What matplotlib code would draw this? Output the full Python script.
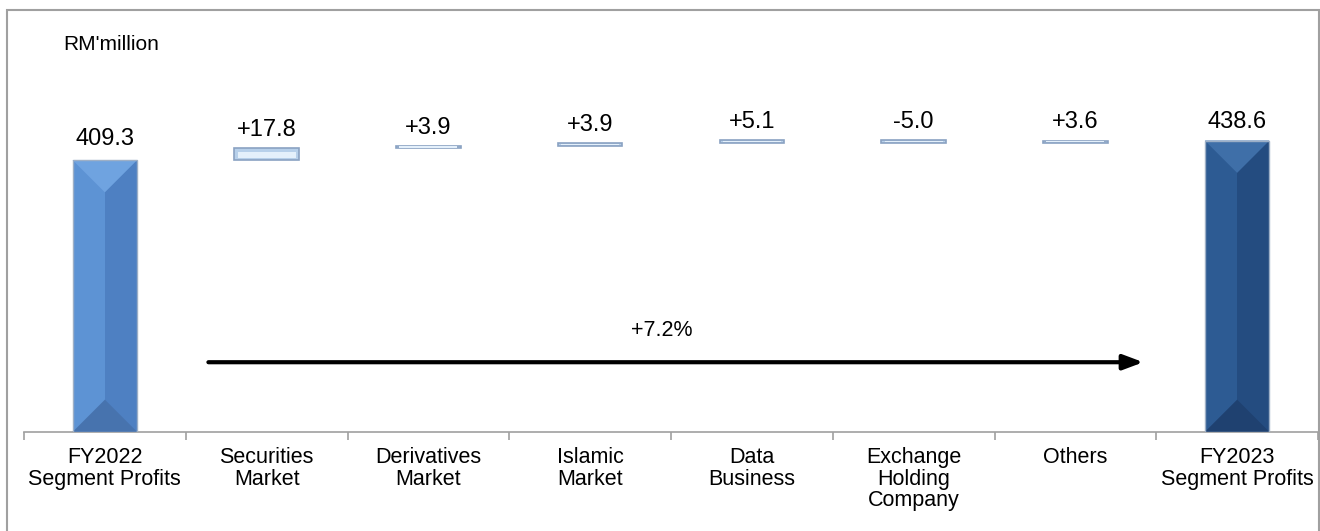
"""Waterfall: FY2022 -> FY2023 segment profits by business line."""
import matplotlib
matplotlib.use("Agg")
import matplotlib.pyplot as plt
from matplotlib.patches import Polygon, Rectangle
import numpy as np

plt.rcParams["font.family"] = ["Liberation Sans", "DejaVu Sans"]

# ── data ─────────────────────────────────────────────────────────────
categories = ["FY2022\nSegment Profits", "Securities\nMarket", "Derivatives\nMarket",
              "Islamic\nMarket", "Data\nBusiness", "Exchange\nHolding\nCompany",
              "Others", "FY2023\nSegment Profits"]
start_total = 409.3
changes = [17.8, 3.9, 3.9, 5.1, -5.0, 3.6]
end_total = 438.6
unit_label = "RM'million"

# ── figure ───────────────────────────────────────────────────────────
W, H = 1320, 531
fig = plt.figure(figsize=(W / 100, H / 100), dpi=100)
ax = fig.add_axes([24 / W, 99 / H, (1318 - 24) / W, (432 - 10) / H])
ax.set_xlim(-0.5, len(categories) - 0.5)
ax.set_ylim(0, 635)

bw = 0.40
x = np.arange(len(categories))

# running bottoms for the delta bars
cum = start_total + np.concatenate([[0], np.cumsum(changes)[:-1]])
bottoms = np.where(np.array(changes) >= 0, cum, cum + np.array(changes))

# scale factor so the bevel triangles are 45 degrees on screen
p0 = ax.transData.transform((0, 0)); p1 = ax.transData.transform((1, 1))
sx, sy = p1[0] - p0[0], p1[1] - p0[1]
depth = (bw / 2) * sx / sy


def bevel_bar(xc, top, light, mid_l, mid_r, dark):
    x0, x1 = xc - bw / 2, xc + bw / 2
    ax.add_patch(Polygon([(x0, 0), (xc, 0), (xc, top), (x0, top)], closed=True,
                         fc=mid_l, ec="none", zorder=2))
    ax.add_patch(Polygon([(xc, 0), (x1, 0), (x1, top), (xc, top)], closed=True,
                         fc=mid_r, ec="none", zorder=2))
    ax.add_patch(Polygon([(x0, top), (x1, top), (xc, top - depth)], closed=True,
                         fc=light, ec="none", zorder=3))
    ax.add_patch(Polygon([(x0, 0), (x1, 0), (xc, depth)], closed=True,
                         fc=dark, ec="none", zorder=3))
    ax.add_patch(Rectangle((x0, 0), bw, top, fc="none", ec="#9DAFC6", lw=1.0, zorder=4))


bevel_bar(x[0], start_total, "#6FA3E0", "#5D93D4", "#4E80C2", "#4773AE")
bevel_bar(x[-1], end_total, "#3F6FA8", "#2D5B93", "#244C80", "#1F4170")

# delta bars: pale blue with a lighter inner band
ax.bar(x[1:-1], np.abs(changes), bottom=bottoms, width=bw, color="#B7D0EA",
       edgecolor="#8AA2C2", linewidth=1.2, zorder=3)
ax.bar(x[1:-1], np.abs(changes) * 0.5, bottom=bottoms + np.abs(changes) * 0.2,
       width=bw * 0.9, color="#E4F0FB", edgecolor="none", zorder=4)

# value labels
lab_off = 13
ax.annotate(f"{start_total:.1f}", (x[0], start_total), xytext=(0, lab_off + 2),
            textcoords="offset points", ha="center", va="center", fontsize=17)
ax.annotate(f"{end_total:.1f}", (x[-1], end_total), xytext=(0, lab_off),
            textcoords="offset points", ha="center", va="center", fontsize=17)
for xi, b, v in zip(x[1:-1], bottoms, changes):
    ax.annotate(f"{v:+.1f}", (xi, b + abs(v)), xytext=(0, lab_off),
                textcoords="offset points", ha="center", va="center", fontsize=17)

# growth arrow
growth = (end_total / start_total - 1) * 100
ax.annotate("", xy=(6.42, 105), xytext=(0.64, 105),
            arrowprops=dict(arrowstyle="-|>,head_length=1.2,head_width=0.45",
                            lw=3, color="black", shrinkA=0, shrinkB=0))
ax.text(3.44, 152, f"{growth:+.1f}%", ha="center", va="center", fontsize=15.5)

ax.text(-0.26, 583, unit_label, ha="left", va="center", fontsize=15)

# axes styling
for s in ("top", "left", "right"):
    ax.spines[s].set_visible(False)
ax.spines["bottom"].set_color("#A0A0A0")
ax.spines["bottom"].set_linewidth(1.2)
ax.set_yticks([])
ax.set_xticks(x)
ax.set_xticklabels(categories, fontsize=15.5, linespacing=1.02)
ax.tick_params(axis="x", which="major", length=0, pad=11)
ax.set_xticks(np.arange(-0.5, len(categories)), minor=True)
ax.tick_params(axis="x", which="minor", length=6, width=1.2, color="#A0A0A0")

# outer frame
fig.patches.append(Rectangle((7 / W, -0.01), (1319 - 7) / W, (H - 10) / H + 0.01,
                             transform=fig.transFigure, fc="none", ec="#A0A0A0", lw=1.5))

fig.savefig("out.png", dpi=100)
